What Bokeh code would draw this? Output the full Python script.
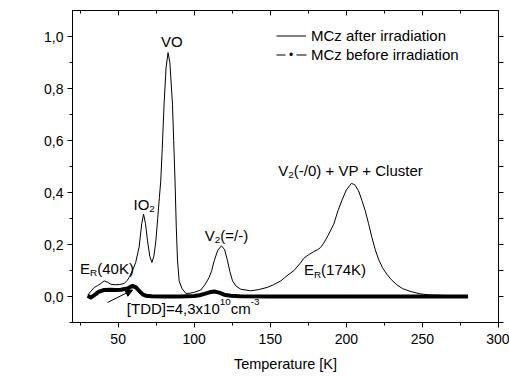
from bokeh.plotting import figure
from bokeh.models import (Range1d, LinearAxis, FixedTicker, CustomJSTickFormatter,
                          Label, Arrow, NormalHead, Legend, LegendItem)
from bokeh.embed import file_html
from bokeh.resources import INLINE

# ---------------- data ----------------
T_after = [30, 32, 34.3, 36.5, 38.6, 40.8, 43, 45.2, 48, 51, 54, 56, 57.5, 59.4, 61.5,
           63.8, 65.5, 66.7, 68, 69.3, 70.8, 72.2, 73.5, 74.8, 76, 77.1, 78, 79, 80.2,
           81.5, 82.8, 84, 85.7, 86.5, 87.4, 88.2, 89, 90.1, 92, 94.5, 96.6, 100, 104.3,
           107, 109.8, 111.5, 113.1, 115.5, 117.9, 120, 121.9, 123.5, 125.2, 127.5, 130.6,
           137, 142, 148, 152, 156.9, 161, 165.6, 170, 172, 175, 178.5, 181, 183, 185.1,
           188, 191.7, 194.5, 197.1, 200, 203.3, 205.5, 208, 210.2, 212.4, 214.6, 216.8,
           219, 221.1, 223.8, 226.6, 229.5, 233.2, 237, 241.9, 248.5, 255, 265, 280]
S_after = [0.005, 0.02, 0.035, 0.042, 0.05, 0.06, 0.055, 0.047, 0.045, 0.046, 0.05, 0.062,
           0.076, 0.1, 0.13, 0.19, 0.28, 0.317, 0.28, 0.214, 0.155, 0.131, 0.155, 0.214,
           0.3, 0.38, 0.444, 0.57, 0.74, 0.88, 0.938, 0.9, 0.74, 0.6, 0.444, 0.27, 0.14,
           0.06, 0.03, 0.012, 0.012, 0.016, 0.025, 0.045, 0.073, 0.1, 0.137, 0.178, 0.195,
           0.18, 0.137, 0.095, 0.06, 0.04, 0.028, 0.022, 0.026, 0.035, 0.045, 0.06, 0.08,
           0.1, 0.13, 0.147, 0.16, 0.172, 0.18, 0.188, 0.205, 0.235, 0.278, 0.33, 0.37,
           0.41, 0.435, 0.43, 0.407, 0.37, 0.33, 0.28, 0.227, 0.18, 0.144, 0.11, 0.086,
           0.065, 0.045, 0.03, 0.02, 0.01, 0.006, 0.004, 0.003]

T_before = [30, 32, 35.3, 37.4, 40.8, 45, 48, 51.8, 56.2, 58, 59.5, 61.7, 63.3, 64.9,
            66.5, 68.2, 72, 80, 90, 100, 103.5, 106.7, 110, 113.2, 116.5, 119.7, 124,
            130, 150, 175, 200, 225, 250, 280]
S_before = [0.003, -0.004, 0.009, 0.019, 0.025, 0.026, 0.025, 0.026, 0.031, 0.037, 0.041,
            0.035, 0.025, 0.015, 0.007, 0.003, 0.001, 0.0, 0.0, 0.002, 0.005, 0.01, 0.016,
            0.019, 0.015, 0.007, 0.003, 0.001, 0.0, 0.0, 0.0, 0.0, 0.0, 0.0]

x_major = [50, 100, 150, 200, 250, 300]
x_minor = [25, 75, 125, 175, 225, 275]
y_major = [0.0, 0.2, 0.4, 0.6, 0.8, 1.0]
y_minor = [-0.1, 0.1, 0.3, 0.5, 0.7, 0.9]

series_names = ["MCz after irradiation", "MCz before irradiation"]

FONT = "Liberation Sans"
FS = 15
NAN = float("nan")

# Arial / Liberation Sans advance widths (per 1000 em)
W = {' ': 278, '(': 333, ')': 333, '=': 584, '/': 278, '-': 333, '+': 584, '[': 278,
     ']': 278, ',': 278, '.': 278, 'x': 500, 'c': 500, 'm': 833, 'l': 222, 'u': 556,
     's': 500, 't': 278, 'e': 556, 'r': 333, 'b': 556, 'p': 556, 'a': 556, 'g': 556,
     'n': 556, 'i': 222, 'A': 667, 'B': 667, 'C': 722, 'D': 722, 'E': 667, 'F': 611,
     'I': 278, 'K': 667, 'L': 556, 'M': 833, 'O': 778, 'P': 667, 'R': 722, 'S': 667,
     'T': 611, 'V': 667}
for d in "0123456789":
    W[d] = 556


def tw(s, size):
    return sum(W.get(c, 556) for c in s) / 1000.0 * size


p = figure(width=509, height=377, x_range=Range1d(20, 300), y_range=Range1d(-0.1, 1.1),
           output_backend="svg", toolbar_location=None,
           min_border_left=72, min_border_right=11, min_border_top=10, min_border_bottom=55)
p.background_fill_color = "white"
p.border_fill_color = "white"
p.grid.visible = False
p.outline_line_color = "black"


def style_axis(ax, ticks, minor, labels=True, tin=0, tout=5, min_in=0, min_out=3):
    ax.ticker = FixedTicker(ticks=ticks, minor_ticks=minor)
    ax.axis_line_color = "black"
    ax.major_tick_line_color = "black"
    ax.minor_tick_line_color = "black"
    ax.major_tick_in = tin
    ax.major_tick_out = tout
    ax.minor_tick_in = min_in
    ax.minor_tick_out = min_out
    if labels:
        ax.major_label_text_font = FONT
        ax.major_label_text_font_size = "14px"
        ax.major_label_text_color = "black"
    else:
        ax.formatter = CustomJSTickFormatter(code="return ''")
        ax.major_label_standoff = 0
        ax.major_label_text_font_size = "1px"


xa = p.xaxis[0]
style_axis(xa, x_major, x_minor)
xa.major_label_standoff = 6
xa.axis_label = "Temperature [K]"
xa.axis_label_text_font = FONT
xa.axis_label_text_font_size = "14.5px"
xa.axis_label_text_font_style = "normal"
xa.axis_label_text_color = "black"
xa.axis_label_standoff = 9

ya = p.yaxis[0]
style_axis(ya, y_major, y_minor)
ya.major_label_standoff = 4
ya.formatter = CustomJSTickFormatter(code="return tick.toFixed(1).replace('.', ',')")

top = LinearAxis()
style_axis(top, x_major, x_minor, labels=False, tin=5, tout=0, min_in=3, min_out=0)
p.add_layout(top, "above")
right = LinearAxis()
style_axis(right, y_major, y_minor, labels=False, tin=0, tout=5, min_in=0, min_out=5)
p.add_layout(right, "right")

# curves
r_after = p.line(T_after, S_after, line_color="black", line_width=1)
p.line(T_before, S_before, line_color="black", line_width=4, line_join="round")

# legend: row 1 uses the real curve; row 2's sample ("- . -") is drawn separately below
l2 = p.line([NAN], [NAN], line_color="black", line_alpha=0, line_width=1)
legend = Legend(items=[LegendItem(label=series_names[0], renderers=[r_after]),
                       LegendItem(label=series_names[1], renderers=[l2])],
                location=(204, 258), border_line_color=None, background_fill_alpha=0,
                label_text_font=FONT, label_text_font_size="15px", label_text_color="black",
                glyph_width=30, glyph_height=19, label_height=19, label_standoff=5,
                spacing=0, padding=0, margin=0)
p.add_layout(legend, "center")
for xs, xe in ((276, 285), (296, 306)):
    p.add_layout(Arrow(end=None, start=None, x_start=xs, y_start=54.5, x_end=xe, y_end=54.5,
                       start_units="canvas", end_units="canvas",
                       line_color="black", line_width=1))
p.add_layout(Label(x=290.5, y=54.5, x_units="canvas", y_units="canvas", text="\u2022",
                   text_font=FONT, text_font_size="12px", text_color="black",
                   text_align="center", text_baseline="middle"))


def rich(x, y, parts, size=FS, angle=0.0, units="data"):
    off = 0.0
    for txt, kind in parts:
        fs = size if kind == "n" else size * 0.66
        dy = 0 if kind == "n" else (-4.5 if kind == "sub" else 6)
        if angle == 0:
            xo, yo = off, dy
        else:
            xo, yo = -dy, off
        p.add_layout(Label(x=x, y=y, x_units=units, y_units=units, x_offset=xo, y_offset=yo,
                           text=txt, text_font=FONT, text_font_size=f"{fs:.1f}px",
                           text_color="black", text_align="left",
                           text_baseline="alphabetic", angle=angle))
        off += tw(txt, fs)


rich(78.2, 0.981, [("VO", "n")])
rich(60.1, 0.353, [("IO", "n"), ("2", "sub")])
rich(106.9, 0.236, [("V", "n"), ("2", "sub"), ("(=/-)", "n")])
rich(25.0, 0.109, [("E", "n"), ("R", "sub"), ("(40K)", "n")])
rich(55.7, -0.045, [("[TDD]=4,3x10", "n"), ("10", "sup"), ("cm", "n"), ("-3", "sup")])
rich(172.1, 0.102, [("E", "n"), ("R", "sub"), ("(174K)", "n")])
rich(155.3, 0.483, [("V", "n"), ("2", "sub"), ("(-/0) + VP + Cluster", "n")])

# y axis title (with subscript), rotated; placed in canvas pixels
rich(27, 240, [("DLTS signal b", "n"), ("1", "sub"), ("[pF]", "n")], size=14.5,
     angle=1.5707963, units="canvas")

p.add_layout(Arrow(end=NormalHead(size=7, fill_color="black", line_color="black"),
                   x_start=43, y_start=-0.023, x_end=59.5, y_end=0.025,
                   line_color="black", line_width=1))

open("out.html", "w").write(file_html(p, INLINE))
